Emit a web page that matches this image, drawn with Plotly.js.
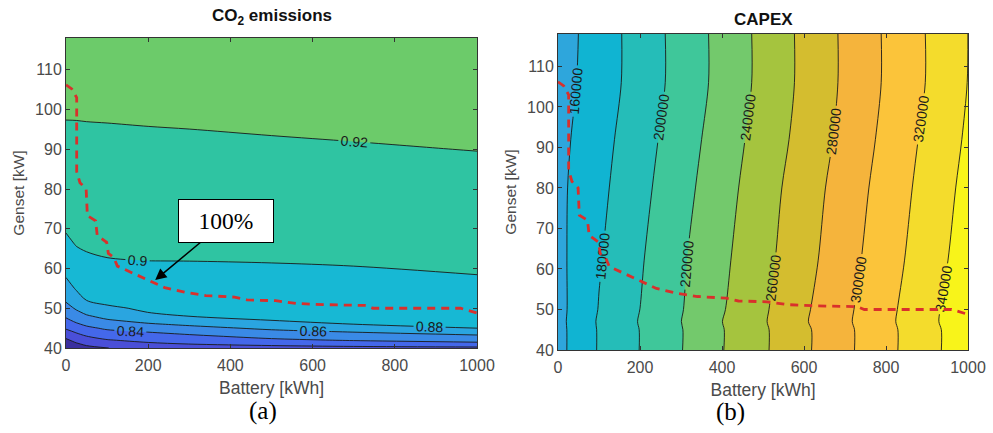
<!DOCTYPE html>
<html><head><meta charset="utf-8">
<script src="https://cdn.plot.ly/plotly-3.0.1.min.js"></script>
<style>html,body{margin:0;padding:0;background:#fff}#chart{width:993px;height:433px}</style>
</head><body><div id="chart"></div>
<script>
// ---------- data: CO2 emissions (normalised) ----------
const batteryCO2 = [0, 25, 50, 100, 200, 300, 500, 700, 1000];
const gensetCO2 = [40, 41, 42, 43, 44, 45, 46, 47, 48, 49, 50, 52, 55, 58, 62, 66, 70, 80, 90, 100, 118];
const co2 = [
  [0.779, 0.7896, 0.795, 0.7998, 0.8047, 0.8082, 0.8125, 0.8143, 0.8154],
  [0.788, 0.7976, 0.8033, 0.8095, 0.8165, 0.8201, 0.8247, 0.8286, 0.834],
  [0.797, 0.8056, 0.8117, 0.819, 0.8252, 0.8283, 0.8365, 0.8418, 0.847],
  [0.8052, 0.8136, 0.8201, 0.8272, 0.8326, 0.8367, 0.8461, 0.8509, 0.857],
  [0.8139, 0.8216, 0.828, 0.8352, 0.8401, 0.8455, 0.8548, 0.8601, 0.8682],
  [0.8221, 0.8296, 0.836, 0.8431, 0.8491, 0.8545, 0.8636, 0.87, 0.8801],
  [0.8293, 0.8376, 0.8436, 0.8508, 0.8582, 0.8633, 0.8727, 0.8801, 0.8815],
  [0.8364, 0.8444, 0.8507, 0.8585, 0.8662, 0.8717, 0.8803, 0.8814, 0.883],
  [0.8426, 0.8506, 0.8579, 0.8652, 0.8738, 0.8801, 0.8817, 0.8829, 0.8845],
  [0.8479, 0.8569, 0.8638, 0.8716, 0.8803, 0.8815, 0.8831, 0.8843, 0.8861],
  [0.8532, 0.8622, 0.8692, 0.8781, 0.8818, 0.8829, 0.8846, 0.8858, 0.8876],
  [0.8622, 0.8711, 0.8801, 0.8828, 0.8848, 0.8859, 0.8874, 0.8887, 0.8906],
  [0.8717, 0.8818, 0.8854, 0.8878, 0.8894, 0.8903, 0.8917, 0.893, 0.8952],
  [0.8808, 0.8873, 0.8907, 0.8928, 0.8939, 0.8947, 0.896, 0.8974, 0.8997],
  [0.8885, 0.8945, 0.8979, 0.8995, 0.9001, 0.9002, 0.9007, 0.9014, 0.9024],
  [0.8962, 0.9006, 0.9017, 0.9022, 0.9024, 0.9026, 0.9032, 0.9039, 0.905],
  [0.9014, 0.9031, 0.904, 0.9045, 0.9047, 0.905, 0.9056, 0.9063, 0.9075],
  [0.9082, 0.9093, 0.9099, 0.9103, 0.9107, 0.911, 0.9118, 0.9125, 0.9139],
  [0.915, 0.9155, 0.9159, 0.9161, 0.9166, 0.917, 0.9179, 0.9188, 0.9203],
  [0.9218, 0.9217, 0.9218, 0.922, 0.9225, 0.9229, 0.924, 0.925, 0.9266],
  [0.934, 0.9329, 0.9324, 0.9325, 0.9331, 0.9337, 0.935, 0.9361, 0.9381]
];

// ---------- data: CAPEX ----------
const batteryCapex = [0, 50, 100, 200, 300, 400, 500, 600, 700, 800, 900, 1000];
const gensetCapex = [40, 45, 47, 50, 62, 80, 92, 106, 118];
const capex = [
  [154700, 166984, 181682, 200377, 219245, 239200, 257143, 276471, 295619, 314528, 333396, 352264],
  [154700, 166984, 181682, 200374, 219065, 239000, 257117, 276471, 295619, 314528, 333396, 352264],
  [154870, 167541, 182264, 201121, 219813, 239800, 258000, 277980, 296667, 315472, 334476, 353524],
  [154756, 166579, 180827, 200056, 218818, 238427, 257100, 276982, 295888, 314717, 333846, 353077],
  [155250, 166173, 178519, 198077, 217308, 236075, 254364, 273398, 292571, 311509, 330377, 349245],
  [155440, 165200, 175200, 194340, 213333, 232264, 251346, 270185, 288952, 307925, 326792, 345660],
  [154110, 163551, 172897, 191698, 210467, 229423, 248257, 266729, 285631, 305000, 324112, 342804],
  [151450, 160909, 170000, 188411, 207238, 226226, 245243, 264486, 283238, 302222, 320784, 340392],
  [150500, 160050, 169524, 188411, 207238, 226226, 245243, 264486, 283238, 302222, 320769, 340050]
];

// ---------- data: 100% frontier (red dashed) ----------
const frontierBattery = [0, 14, 26, 26, 34, 49, 52, 72, 76, 99, 103, 116, 125, 165, 198, 240, 290, 340, 410, 440, 510, 560, 630, 730, 747, 960, 1000];
const frontierGenset = [106.2, 105.2, 103, 84.4, 81.6, 80, 73.3, 72, 68.3, 66.6, 63.8, 62.8, 60.6, 58.7, 57, 55.2, 54, 53.2, 52.8, 52.1, 51.9, 51.2, 50.9, 50.7, 50, 50, 48.8];

const xTicks = [0, 200, 400, 600, 800, 1000];
const yTicks = [40, 50, 60, 70, 80, 90, 100, 110];

// ---------- styling ----------
const co2Colors = ['#3a2f9f', '#4a4fd8', '#4468ea', '#3a8ae6', '#2aa5e0', '#17b8d4', '#2fc4a2', '#6ccb6a'];
const capexColors = ['#2ea6dc', '#10b4d2', '#25bdb8', '#3fc79a', '#73c96c', '#a5c43e', '#d4bd2f', '#f5b43c', '#fbc43a', '#f4dc2c', '#f8f41a'];
function stepScale(cols) {
  const n = cols.length, s = [];
  cols.forEach((c, k) => {
    s.push([k === 0 ? 0 : k / n + 1e-4, c]);
    s.push([k === n - 1 ? 1 : (k + 1) / n - 1e-4, c]);
  });
  return s;
}
const font = 'Liberation Sans, Arial, sans-serif';
const serif = 'Liberation Serif, Times New Roman, serif';
const tickGray = '#4a4a4a';

function xAx(domain, anchor) {
  return {domain, anchor, range: [0, 1000], tickvals: xTicks, ticks: 'inside', ticklen: 4,
    tickcolor: '#333', showline: true, linecolor: '#333', linewidth: 1, mirror: 'ticks',
    showgrid: false, zeroline: false, ticklabelstandoff: 3, tickfont: {family: font, size: 16, color: tickGray},
    title: {text: 'Battery [kWh]', font: {family: font, size: 17.5, color: tickGray}, standoff: 8}};
}
function yAx(domain, anchor) {
  return {domain, anchor, range: [40, 118], tickvals: yTicks, ticks: 'inside', ticklen: 4,
    tickcolor: '#333', showline: true, linecolor: '#333', linewidth: 1, mirror: 'ticks',
    showgrid: false, zeroline: false, tickfont: {family: font, size: 16, color: tickGray},
    title: {text: 'Genset [kW]', font: {family: font, size: 15.5, color: tickGray}, standoff: 6}};
}

const traces = [
  {type: 'contour', x: batteryCO2, y: gensetCO2, z: co2, xaxis: 'x', yaxis: 'y',
   autocontour: false, contours: {start: 0.8, end: 0.92, size: 0.02, coloring: 'fill',
     showlabels: true, labelformat: '.2~f', labelfont: {family: font, size: 14, color: '#1a1a1a'}},
   colorscale: stepScale(co2Colors), showscale: false,
   line: {color: '#1a1a1a', width: 0.9, smoothing: 0.9}, hoverinfo: 'skip'},
  {type: 'contour', x: batteryCapex, y: gensetCapex, z: capex, xaxis: 'x2', yaxis: 'y2',
   autocontour: false, contours: {start: 160000, end: 340000, size: 20000, coloring: 'fill',
     showlabels: true, labelformat: 'd', labelfont: {family: font, size: 14, color: '#1a1a1a'}},
   colorscale: stepScale(capexColors), showscale: false,
   line: {color: '#1a1a1a', width: 0.9, smoothing: 0.9}, hoverinfo: 'skip'},
  {type: 'scatter', mode: 'lines', x: frontierBattery, y: frontierGenset, xaxis: 'x', yaxis: 'y',
   line: {color: '#d9302c', width: 2.8, dash: '8px,6px'}, showlegend: false, hoverinfo: 'skip'},
  {type: 'scatter', mode: 'lines', x: frontierBattery, y: frontierGenset, xaxis: 'x2', yaxis: 'y2',
   line: {color: '#d9302c', width: 2.8, dash: '8px,6px'}, showlegend: false, hoverinfo: 'skip'}
];

const layout = {
  width: 993, height: 433, margin: {l: 0, r: 0, t: 0, b: 0},
  paper_bgcolor: '#fff', plot_bgcolor: '#fff', showlegend: false,
  xaxis: xAx([66 / 993, 477 / 993], 'y'),
  yaxis: yAx([85 / 433, 395 / 433], 'x'),
  xaxis2: xAx([558 / 993, 968 / 993], 'y2'),
  yaxis2: yAx([83 / 433, 399 / 433], 'x2'),
  annotations: [
    {xref: 'paper', yref: 'paper', x: 272 / 993, y: 1 - 17 / 433, text: '<b>CO<sub>2</sub> emissions</b>',
     showarrow: false, font: {family: font, size: 17, color: '#111'}, xanchor: 'center', yanchor: 'middle'},
    {xref: 'paper', yref: 'paper', x: 763 / 993, y: 1 - 19 / 433, text: '<b>CAPEX</b>',
     showarrow: false, font: {family: font, size: 17, color: '#111'}, xanchor: 'center', yanchor: 'middle'},
    {xref: 'paper', yref: 'paper', x: 263 / 993, y: 1 - 411 / 433, text: '(a)',
     showarrow: false, font: {family: serif, size: 25, color: '#000'}, xanchor: 'center', yanchor: 'middle'},
    {xref: 'paper', yref: 'paper', x: 730 / 993, y: 1 - 412 / 433, text: '(b)',
     showarrow: false, font: {family: serif, size: 25, color: '#000'}, xanchor: 'center', yanchor: 'middle'},
    {xref: 'x', yref: 'y', x: 217, y: 57.1, ax: 71, ay: -59, text: '100%',
     showarrow: true, arrowhead: 2, arrowsize: 1.5, arrowwidth: 1.5, arrowcolor: '#000',
     font: {family: serif, size: 23.5, color: '#000'},
     bgcolor: '#fff', bordercolor: '#000', borderwidth: 1, borderpad: 1, width: 92, height: 40}
  ]
};

Plotly.newPlot('chart', traces, layout, {staticPlot: true, displayModeBar: false});
</script>
</body></html>
